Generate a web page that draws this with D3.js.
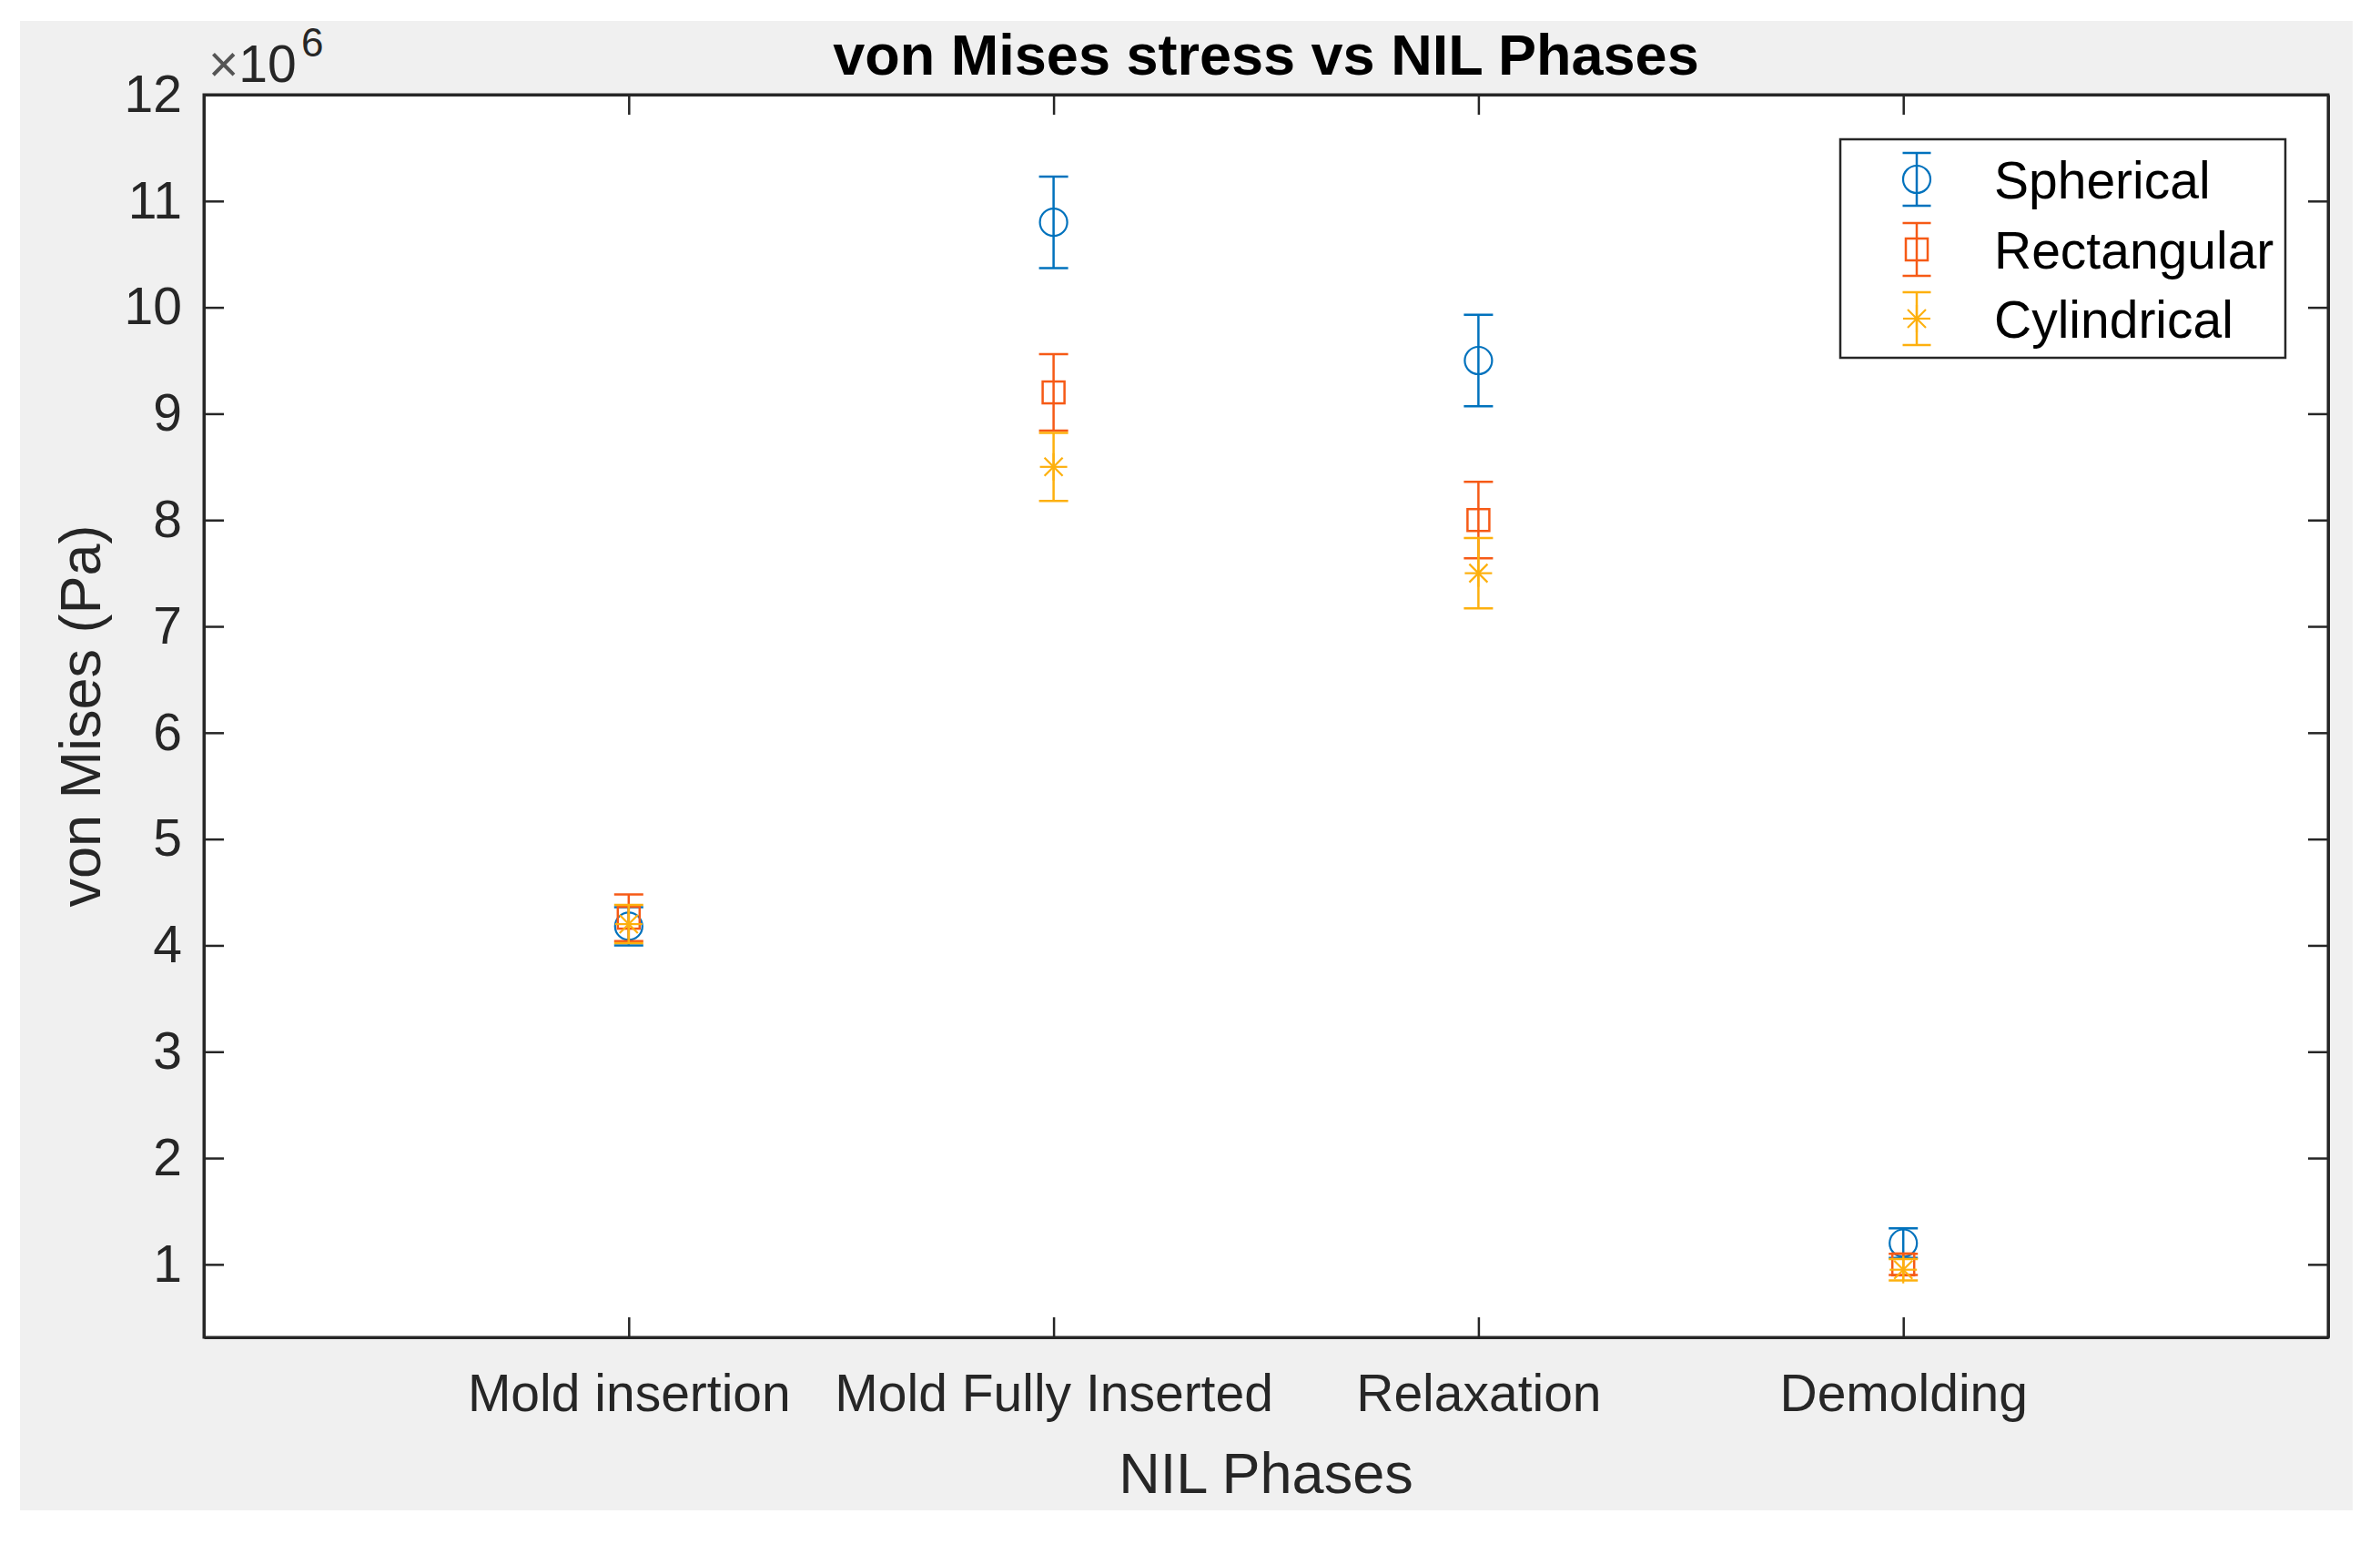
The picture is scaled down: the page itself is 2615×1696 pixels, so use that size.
<!DOCTYPE html>
<html>
<head>
<meta charset="utf-8">
<script src="https://cdn.jsdelivr.net/npm/d3@7"></script>
<style>
  html, body { margin: 0; padding: 0; background: #ffffff; }
  svg { display: block; }
  text { font-family: "Liberation Sans", Arial, Helvetica, sans-serif; }
</style>
</head>
<body>
<svg id="chart" width="2615" height="1696"></svg>
<script>
// ---- Data (values in units of 1e6 Pa) ----
const categories = ["Mold insertion", "Mold Fully Inserted", "Relaxation", "Demolding"];
const seriesNames = ["Spherical", "Rectangular", "Cylindrical"];
const sphericalValues   = [4.18, 10.80, 9.50, 1.20];
const sphericalErrors   = [0.18, 0.43, 0.43, 0.14];
const rectangularValues = [4.26, 9.20, 8.00, 1.00];
const rectangularErrors = [0.22, 0.36, 0.36, 0.10];
const cylindricalValues = [4.20, 8.50, 7.50, 0.95];
const cylindricalErrors = [0.18, 0.32, 0.33, 0.10];
const yTickValues = [1, 2, 3, 4, 5, 6, 7, 8, 9, 10, 11, 12];
const xTickValues = [1, 2, 3, 4];

const colors = ["#0072BD", "#F65A16", "#FDB00E"];
const markers = ["circle", "square", "star"];

const series = [
  { name: seriesNames[0], values: sphericalValues, errors: sphericalErrors },
  { name: seriesNames[1], values: rectangularValues, errors: rectangularErrors },
  { name: seriesNames[2], values: cylindricalValues, errors: cylindricalErrors }
];

// ---- Layout ----
const W = 2615, H = 1696;
const plot = { left: 224, right: 2558, top: 104, bottom: 1469 };
const axisColor = "#262626";

const svg = d3.select("#chart");

svg.append("rect").attr("x", 0).attr("y", 0).attr("width", W).attr("height", H).attr("fill", "#ffffff");
svg.append("rect").attr("x", 22).attr("y", 23).attr("width", 2563).attr("height", 1636).attr("fill", "#F0F0F0");
svg.append("rect")
  .attr("x", plot.left).attr("y", plot.top)
  .attr("width", plot.right - plot.left).attr("height", plot.bottom - plot.top)
  .attr("fill", "#ffffff");

const x = d3.scaleLinear().domain([0, 5]).range([plot.left, plot.right]);
const y = d3.scaleLinear().domain([0.314, 12]).range([plot.bottom, plot.top]);

const tickLen = 22;
function styleAxis(g) {
  g.selectAll("path.domain").attr("stroke", axisColor).attr("stroke-width", 3);
  g.selectAll(".tick line").attr("stroke", axisColor).attr("stroke-width", 2.5);
  g.selectAll(".tick text").attr("fill", axisColor).style("font-size", "57px")
    .style("font-family", '"Liberation Sans", Arial, Helvetica, sans-serif');
}

// Left axis
svg.append("g").attr("transform", `translate(${plot.left},0)`)
  .call(d3.axisLeft(y).tickValues(yTickValues).tickFormat(d3.format("d"))
    .tickSizeInner(-tickLen).tickSizeOuter(0).tickPadding(24))
  .call(styleAxis);
// Right axis (mirror ticks)
svg.append("g").attr("transform", `translate(${plot.right},0)`)
  .call(d3.axisRight(y).tickValues(yTickValues).tickFormat("")
    .tickSizeInner(-tickLen).tickSizeOuter(0))
  .call(styleAxis);
// Bottom axis
svg.append("g").attr("transform", `translate(0,${plot.bottom})`)
  .call(d3.axisBottom(x).tickValues(xTickValues).tickFormat(i => categories[i - 1])
    .tickSizeInner(-tickLen).tickSizeOuter(0).tickPadding(41))
  .call(styleAxis);
// Top axis (mirror ticks)
svg.append("g").attr("transform", `translate(0,${plot.top})`)
  .call(d3.axisTop(x).tickValues(xTickValues).tickFormat("")
    .tickSizeInner(-tickLen).tickSizeOuter(0))
  .call(styleAxis);

// Axes box
svg.append("rect")
  .attr("x", plot.left).attr("y", plot.top)
  .attr("width", plot.right - plot.left).attr("height", plot.bottom - plot.top)
  .attr("fill", "none").attr("stroke", axisColor).attr("stroke-width", 3);

// Exponent label
const expo = svg.append("text").attr("x", 229).attr("y", 90)
  .attr("fill", axisColor).style("font-size", "57px");
expo.append("tspan").text("\u00D7").attr("fill", "#555");
expo.append("tspan").text("10");
svg.append("text").attr("x", 331).attr("y", 62).attr("fill", axisColor)
  .style("font-size", "44px").text("6");

// Title
svg.append("text").attr("x", (plot.left + plot.right) / 2).attr("y", 82)
  .attr("text-anchor", "middle").attr("fill", "#000")
  .style("font-size", "63px").style("font-weight", "bold")
  .text("von Mises stress vs NIL Phases");

// Axis labels
svg.append("text").attr("x", (plot.left + plot.right) / 2).attr("y", 1640)
  .attr("text-anchor", "middle").attr("fill", axisColor)
  .style("font-size", "63px").text("NIL Phases");
svg.append("text")
  .attr("transform", `translate(110,${(plot.top + plot.bottom) / 2}) rotate(-90)`)
  .attr("text-anchor", "middle").attr("fill", axisColor)
  .style("font-size", "63px").text("von Mises (Pa)");

// ---- Marker drawing ----
function drawMarker(g, type, cx, cy, color) {
  if (type === "circle") {
    g.append("circle").attr("cx", cx).attr("cy", cy).attr("r", 15)
      .attr("fill", "none").attr("stroke", color).attr("stroke-width", 2.2);
  } else if (type === "square") {
    g.append("rect").attr("x", cx - 12).attr("y", cy - 12).attr("width", 24).attr("height", 24)
      .attr("fill", "none").attr("stroke", color).attr("stroke-width", 2.5);
  } else {
    const a = 15, b = 10;
    const segs = [[-a, 0, a, 0], [0, -a, 0, a], [-b, -b, b, b], [-b, b, b, -b]];
    segs.forEach(s => g.append("line")
      .attr("x1", cx + s[0]).attr("y1", cy + s[1]).attr("x2", cx + s[2]).attr("y2", cy + s[3])
      .attr("stroke", color).attr("stroke-width", 2.2));
  }
}

function drawErrorBar(g, cx, yTop, yBot, color, capHalf) {
  g.append("line").attr("x1", cx).attr("x2", cx).attr("y1", yTop).attr("y2", yBot)
    .attr("stroke", color).attr("stroke-width", 2.5);
  [yTop, yBot].forEach(yy => g.append("line")
    .attr("x1", cx - capHalf).attr("x2", cx + capHalf).attr("y1", yy).attr("y2", yy)
    .attr("stroke", color).attr("stroke-width", 2.5));
}

// ---- Data marks ----
const marks = svg.append("g");
series.forEach((s, si) => {
  const g = marks.append("g");
  s.values.forEach((v, i) => {
    const cx = x(xTickValues[i]);
    drawErrorBar(g, cx, y(v + s.errors[i]), y(v - s.errors[i]), colors[si], 16);
    drawMarker(g, markers[si], cx, y(v), colors[si]);
  });
});

// ---- Legend ----
const legend = svg.append("g");
const lg = { x: 2022, y: 153, w: 489, h: 240 };
legend.append("rect").attr("x", lg.x).attr("y", lg.y).attr("width", lg.w).attr("height", lg.h)
  .attr("fill", "#ffffff").attr("stroke", axisColor).attr("stroke-width", 2.5);
const rowCenters = [197, 274, 350];
seriesNames.forEach((name, i) => {
  const cy = rowCenters[i];
  drawErrorBar(legend, 2106, cy - 29, cy + 29, colors[i], 15.5);
  drawMarker(legend, markers[i], 2106, cy, colors[i]);
  legend.append("text").attr("x", 2191).attr("y", cy + 21)
    .attr("fill", "#000").style("font-size", "57px").text(name);
});
</script>
</body>
</html>
